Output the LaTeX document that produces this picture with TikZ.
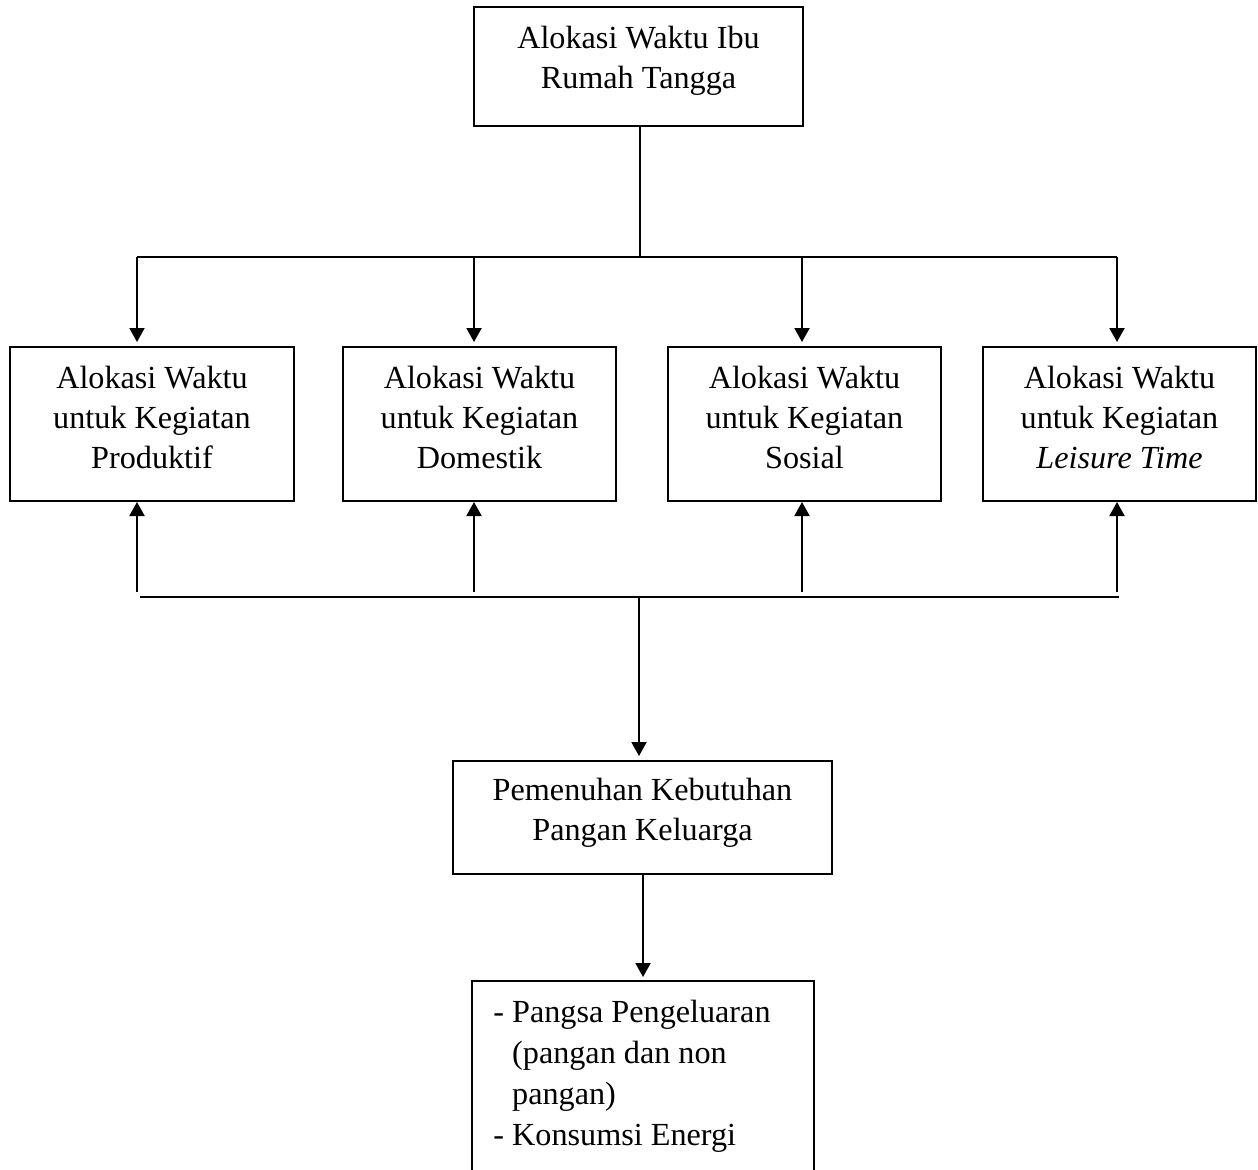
\documentclass[tikz,border=0pt]{standalone}
\usepackage{fontspec}
\setmainfont{Liberation Serif}
\usetikzlibrary{arrows.meta}

% raise the text inside a box by deepening its last line
\newcommand{\ganjal}[1]{\rule[-#1]{0pt}{#1}}

\tikzset{
  kotak/.style={draw, line width=1pt, align=center, inner sep=0pt,
    font=\fontsize{16.1}{20}\selectfont},
  garis/.style={line width=1pt},
  panah/.style={line width=1pt, -{Triangle[length=7pt,width=7.5pt]}}
}

\begin{document}
\begin{tikzpicture}[x=0.5pt, y=-0.5pt]
  % Canvas
  \useasboundingbox (0,0) rectangle (1258,1169);
  \clip (0,0) rectangle (1258,1169);

  % Boxes
  \node[kotak, minimum width=164.5pt, minimum height=59.5pt] (ibu) at (638.5,66.5)
    {Alokasi Waktu Ibu\\Rumah Tangga\ganjal{9.4pt}};

  \node[kotak, minimum width=142pt, minimum height=77pt] (produktif) at (152,424)
    {Alokasi Waktu\\untuk Kegiatan\\Produktif\ganjal{7pt}};
  \node[kotak, minimum width=136.5pt, minimum height=77pt] (domestik) at (479.5,424)
    {Alokasi Waktu\\untuk Kegiatan\\Domestik\ganjal{7pt}};
  \node[kotak, minimum width=136.5pt, minimum height=77pt] (sosial) at (804.5,424)
    {Alokasi Waktu\\untuk Kegiatan\\Sosial\ganjal{7pt}};
  \node[kotak, minimum width=136.5pt, minimum height=77pt] (leisure) at (1119.5,424)
    {Alokasi Waktu\\untuk Kegiatan\\\textit{Leisure Time}\ganjal{7pt}};

  \node[kotak, minimum width=189.5pt, minimum height=56.5pt] (pangan) at (642.5,817.5)
    {Pemenuhan Kebutuhan\\Pangan Keluarga\ganjal{8.4pt}};

  \node[kotak, minimum width=171pt, minimum height=124.5pt] (konsumsi) at (643,1105.5) {};
  \node[anchor=north west, inner sep=0pt, align=left,
    font=\fontsize{16.1}{20.5}\selectfont] (konsumsiteks) at (493,1000)
    {- Pangsa Pengeluaran\\\phantom{- }(pangan dan non\\\phantom{- }pangan)\\- Konsumsi Energi};

  % Upper bus
  \coordinate (atas) at (640,257);
  \draw[garis] (ibu.south -| atas) -- (atas);
  \draw[garis] (137,257) -- (1117,257);
  \foreach \n/\x in {produktif/137, domestik/474, sosial/802, leisure/1117} {
    \draw[panah, shorten >=2pt] (\x,257) -- (\x,257 |- \n.north);
  }

  % Lower bus
  \coordinate (bawah) at (639,597);
  \draw[garis] (140,597) -- (1119,597);
  \foreach \n/\x in {produktif/137, domestik/474, sosial/802, leisure/1117} {
    \draw[panah] (\x,592) -- (\x,592 |- \n.south);
  }
  \draw[panah, shorten >=2pt] (bawah) -- (bawah |- pangan.north);

  % Down to indicators
  \draw[panah, shorten >=1.5pt] (pangan.south -| konsumsi.north) -- (konsumsi.north);
\end{tikzpicture}
\end{document}
